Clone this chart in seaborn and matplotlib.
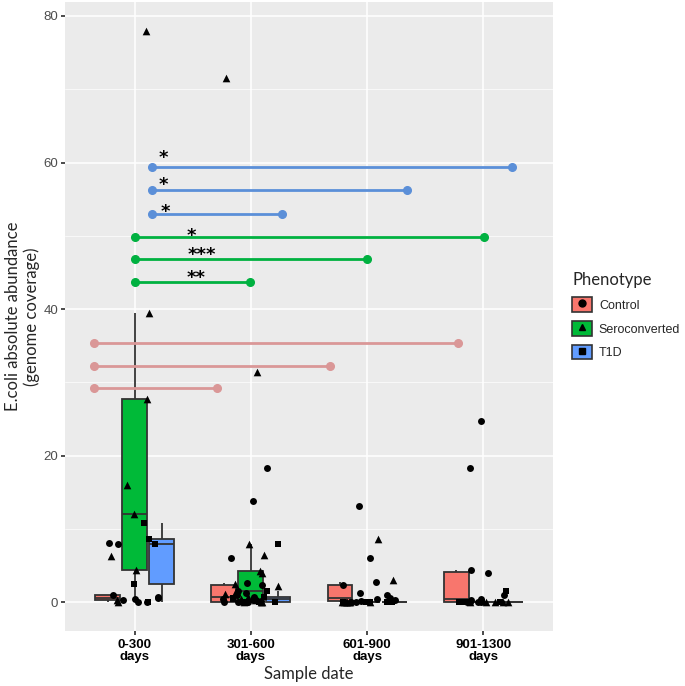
import numpy as np
import pandas as pd
import matplotlib
matplotlib.use("Agg")
import matplotlib.pyplot as plt
import seaborn as sns
from matplotlib.patches import Patch
from matplotlib.lines import Line2D
from matplotlib.legend_handler import HandlerTuple
from matplotlib.ticker import MultipleLocator

# ── data ────────────────────────────────────────────────────
dates = ["0-300\ndays", "301-600\ndays", "601-900\ndays", "901-1300\ndays"]
phenotypes = ["Control", "Seroconverted", "T1D"]

control = [
    [0.0, 0.1, 0.3, 0.5, 0.65, 0.8, 1.0, 8.0, 8.1],
    [0, 0, 0, 0, 0.05, 0.2, 0.3, 0.5, 0.8, 1.0, 1.3, 1.6, 2.4, 2.7, 6.1, 13.8, 18.4],
    [0, 0.1, 0.15, 0.2, 0.3, 0.5, 0.65, 1.0, 1.3, 2.4, 2.8, 6.1, 13.2],
    [0, 0, 0.1, 0.1, 0.3, 0.5, 1.0, 4.0, 4.4, 18.4, 24.7],
]
seroconverted = [
    [0.0, 0.3, 4.4, 6.3, 12.1, 16.0, 27.7, 39.5, 78.0],
    [0, 0.05, 0.1, 0.2, 0.3, 0.5, 0.8, 1.2, 1.5, 2.3, 2.5, 4.0, 4.3, 6.4, 7.9, 31.4, 71.5],
    [0, 0, 0, 0, 0, 0.05, 0.1, 3.0, 8.7],
    [0, 0, 0, 0.05, 0.1],
]
t1d = [
    [0.0, 2.55, 8.0, 8.7, 10.8],
    [0.0, 0.0, 0.05, 0.3, 0.45, 0.6, 0.7, 1.6, 7.9],
    [0, 0, 0, 0.05, 0.1],
    [0, 0, 0, 0, 0.05, 0.1, 1.5],
]

# significance brackets (x in category units, y in data units)
sig_y = [59.4, 56.2, 53.0, 49.8, 46.8, 43.7, 35.4, 32.3, 29.3]
sig_x0 = [0.15, 0.15, 0.15, 0.0, 0.0, 0.0, -0.35, -0.35, -0.35]
sig_x1 = [3.25, 2.34, 1.27, 3.01, 2.0, 0.99, 2.78, 1.68, 0.71]
sig_group = ["T1D", "T1D", "T1D", "Sero", "Sero", "Sero", "Ctrl", "Ctrl", "Ctrl"]
stars = ["*", "*", "*", "*", "***", "**"]
star_x = [0.25, 0.25, 0.26, 0.49, 0.58, 0.53]
star_y = [61.4, 57.6, 54.0, 50.7, 48.1, 45.0]

palette = {"Control": "#F8766D", "Seroconverted": "#00BA38", "T1D": "#619CFF"}
sig_colors = {"T1D": "#5B8FD8", "Sero": "#00B140", "Ctrl": "#DA9797"}
markers = {"Control": "o", "Seroconverted": "^", "T1D": "s"}

rows = []
for pheno, groups in zip(phenotypes, [control, seroconverted, t1d]):
    for d, vals in zip(dates, groups):
        for v in vals:
            rows.append((d, pheno, v))
df = pd.DataFrame(rows, columns=["date", "phenotype", "value"])

# ── plot ────────────────────────────────────────────────────
sns.set_theme(style="darkgrid", rc={
    "axes.facecolor": "#EBEBEB",
    "grid.color": "white",
    "grid.linewidth": 1.1,
})
plt.rcParams["font.family"] = ["Liberation Sans", "DejaVu Sans"]

fig = plt.figure(figsize=(6.85, 6.86), dpi=100)
ax = fig.add_axes([65 / 685, 55 / 686, 488 / 685, 629 / 686])

sns.boxplot(data=df, x="date", y="value", hue="phenotype", order=dates,
            hue_order=phenotypes, palette=palette, width=0.7, gap=0.08,
            showfliers=False, linecolor="#333333", linewidth=1.3,
            saturation=1, legend=False, capprops={"visible": False}, ax=ax)

np.random.seed(3)
for pheno in phenotypes:
    sub = df[df["phenotype"] == pheno]
    sns.stripplot(data=sub, x="date", y="value", order=dates, color="black",
                  marker=markers[pheno], size=5.5 if pheno == "Seroconverted" else 5,
                  jitter=0.25, linewidth=0, ax=ax, zorder=4)

for y, x0, x1, g in zip(sig_y, sig_x0, sig_x1, sig_group):
    ax.plot([x0, x1], [y, y], color=sig_colors[g], lw=2, marker="o",
            markersize=5.5, zorder=5, solid_capstyle="butt")
for s, x, y in zip(stars, star_x, star_y):
    ax.text(x, y - 1.4, s, ha="center", va="baseline", fontsize=13,
            fontweight="bold", family="DejaVu Sans", color="black", zorder=6)

ax.set_xlim(-0.6, 3.6)
ax.set_ylim(-3.9, 81.9)
ax.set_yticks([0, 20, 40, 60, 80])
ax.yaxis.set_minor_locator(MultipleLocator(10))
ax.grid(which="minor", axis="y", color="white", linewidth=0.5)
ax.grid(which="major", color="white", linewidth=1.1)
ax.set_axisbelow(True)
for sp in ax.spines.values():
    sp.set_visible(False)

ax.tick_params(axis="y", which="major", length=3, color="#333333",
               labelsize=9.5, labelcolor="#4D4D4D", pad=2, left=True)
ax.tick_params(axis="y", which="minor", length=0)
ax.tick_params(axis="x", length=3, color="#333333", labelsize=9.5,
               labelcolor="black", pad=3, bottom=True)
for lab in ax.get_xticklabels():
    lab.set_fontweight("bold")
    lab.set_linespacing(1.0)

ax.set_xlabel("Sample date", fontsize=12, family=["Lato", "DejaVu Sans"], labelpad=2)
ax.set_ylabel("E.coli absolute abundance\n(genome coverage)", fontsize=12,
              family=["Lato", "DejaVu Sans"], linespacing=1.15)
ax.yaxis.set_label_coords(-0.052, 0.5)

handles = [(Patch(facecolor=palette[p], edgecolor="#333333", linewidth=1.2),
            Line2D([], [], ls="none", marker=markers[p], color="black", markersize=5))
           for p in phenotypes]
leg = fig.legend(handles, phenotypes, title="Phenotype", loc="upper left",
                 bbox_to_anchor=(572 / 685, 1 - 272 / 686), frameon=False,
                 borderpad=0, borderaxespad=0,
                 handler_map={tuple: HandlerTuple(ndivide=1, pad=0)},
                 handlelength=1.6, handleheight=1.4, handletextpad=0.55,
                 labelspacing=0.75, fontsize=9, alignment="left")
leg.get_title().set_fontsize(12)
leg.get_title().set_family(["Lato", "DejaVu Sans"])

fig.savefig("out.png", dpi=100)
